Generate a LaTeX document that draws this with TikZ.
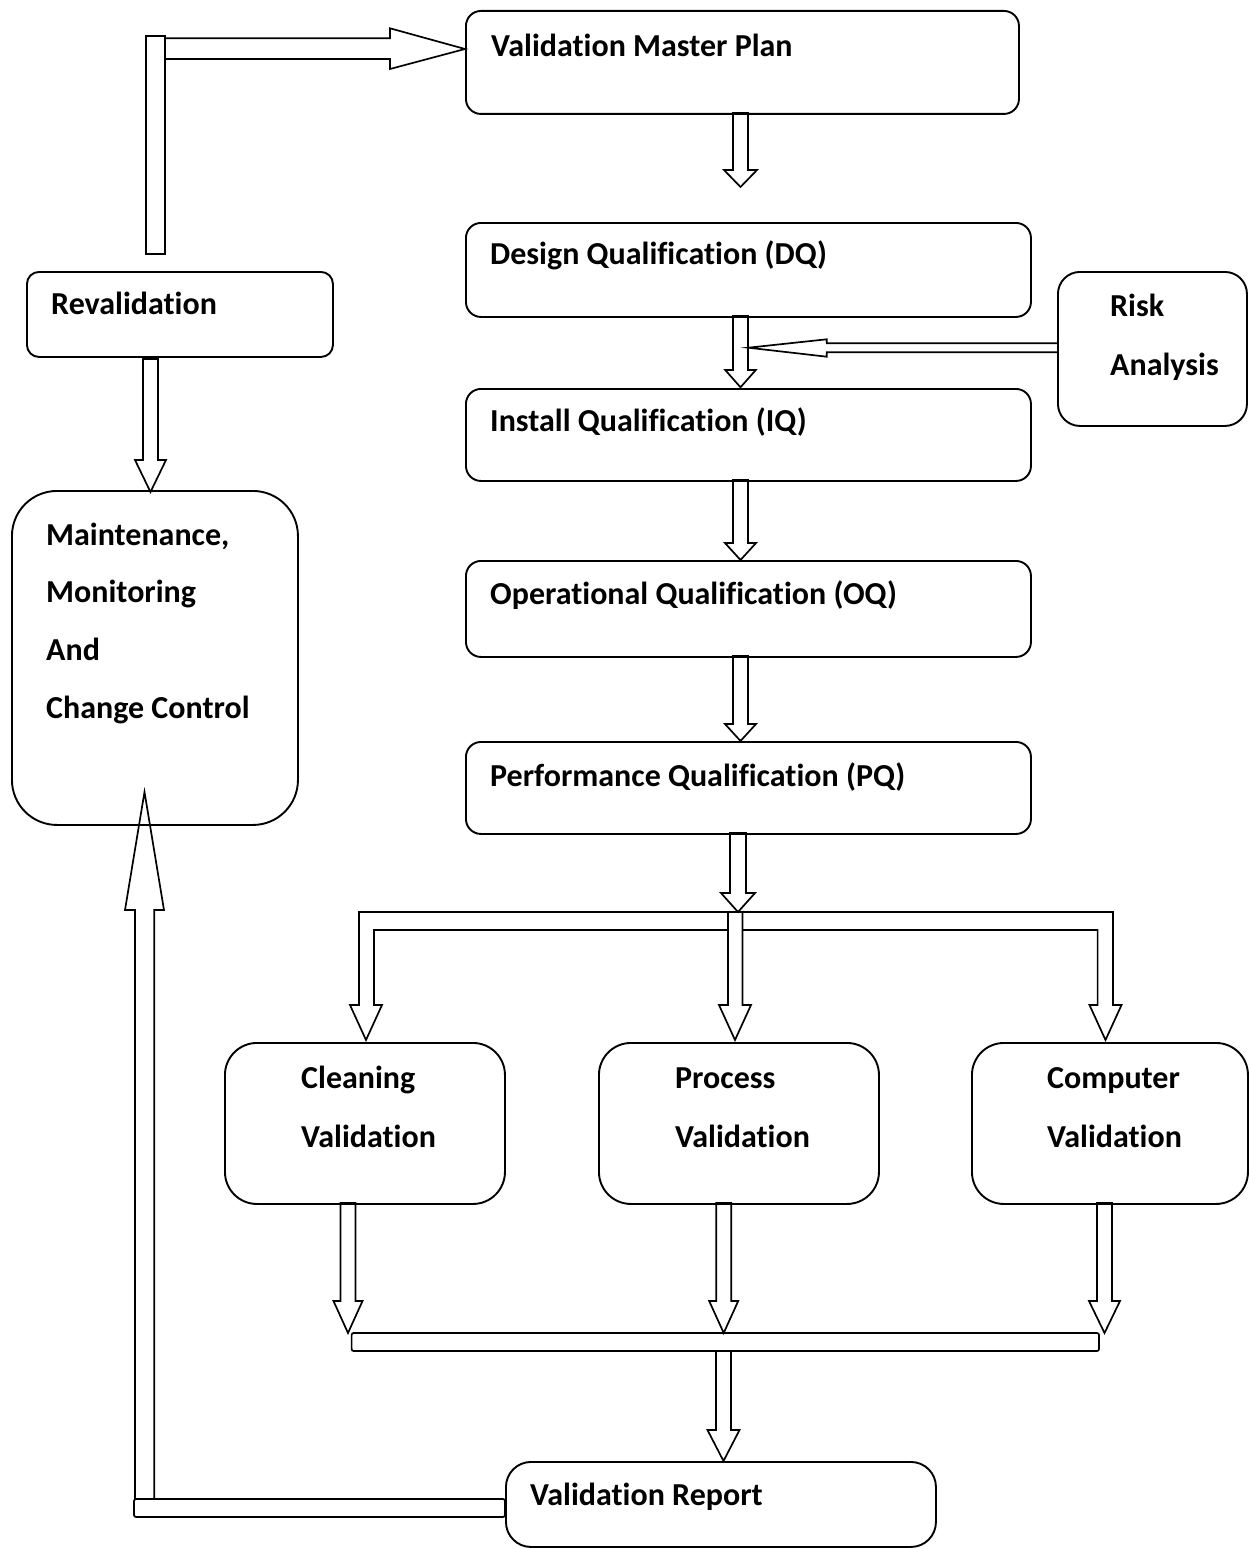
\documentclass[tikz,border=0pt]{standalone}
\usepackage{fontspec}
\setmainfont{Carlito}[Ligatures=CommonOff]
\newcommand\blkdown[6]{%
  \draw[blk] (#1-#5,#2) -- (#1-#5,#3) -- (#1-#6,#3) -- (#1,#4) -- (#1+#6,#3) -- (#1+#5,#3) -- (#1+#5,#2) -- cycle;}
\begin{document}
\begin{tikzpicture}[x=1pt,y=-1pt,
  box/.style={draw, line width=1.9pt, rounded corners=#1, inner sep=0pt, anchor=north west},
  box/.default=15pt,
  lbl/.style={anchor=base west, inner sep=0pt, font=\fontsize{32}{38}\selectfont\bfseries},
  blk/.style={draw, line width=1.7pt, line join=miter}]
\useasboundingbox (0,0) rectangle (1248,1549);

% boxes
\node[box=15pt, minimum width=553pt, minimum height=103pt] (vmp) at (465,10) {};
\node[box=15pt, minimum width=565pt, minimum height=94pt] (dq) at (465,222) {};
\node[box=15pt, minimum width=565pt, minimum height=92pt] (iq) at (465,388) {};
\node[box=15pt, minimum width=565pt, minimum height=96pt] (oq) at (465,560) {};
\node[box=15pt, minimum width=565pt, minimum height=92pt] (pq) at (465,741) {};
\node[box=22pt, minimum width=189pt, minimum height=154pt] (risk) at (1057,271) {};
\node[box=12pt, minimum width=306pt, minimum height=85pt] (reval) at (26,271) {};
\node[box=45pt, minimum width=286pt, minimum height=334pt] (maint) at (11,490) {};
\node[box=32pt, minimum width=280pt, minimum height=161pt] (clean) at (224,1042) {};
\node[box=32pt, minimum width=280pt, minimum height=161pt] (proc) at (598,1042) {};
\node[box=32pt, minimum width=276pt, minimum height=161pt] (comp) at (971,1042) {};
\node[box=25pt, minimum width=430pt, minimum height=85pt] (report) at (505,1461) {};

% labels
\node[lbl] (tvmp) at (491,56.7) {Validation Master Plan};
\node[lbl] (tdq) at (490,264.3) {Design Qualification (DQ)};
\node[lbl] (tiq) at (490,431) {Install Qualification (IQ)};
\node[lbl] (toq) at (490,604) {Operational Qualification (OQ)};
\node[lbl] (tpq) at (490,786) {Performance Qualification (PQ)};
\node[lbl] (trisk1) at (1110,316.7) {Risk};
\node[lbl] (trisk2) at (1110,375) {Analysis};
\node[lbl] (treval) at (51,314) {Revalidation};
\node[lbl] (tm1) at (46,545) {Maintenance,};
\node[lbl] (tm2) at (46,602) {Monitoring};
\node[lbl] (tm3) at (46,660) {And};
\node[lbl] (tm4) at (46,718) {Change Control};
\node[lbl] (tc1) at (301,1088.3) {Cleaning};
\node[lbl] (tc2) at (301,1147.3) {Validation};
\node[lbl] (tp1) at (675,1088.3) {Process};
\node[lbl] (tp2) at (675,1147.3) {Validation};
\node[lbl] (tco1) at (1047,1088.3) {Computer};
\node[lbl] (tco2) at (1047,1147.3) {Validation};
\node[lbl] (trep) at (530,1505) {Validation Report};

% main chain block arrows
\blkdown{740.5}{113}{170}{187}{7.5}{16.5}
\blkdown{740.5}{316}{370}{387.3}{7.5}{15.3}
\blkdown{740.5}{480}{543}{560}{7.5}{15.5}
\blkdown{740.5}{656}{724}{741}{7.5}{15.5}
\blkdown{738}{833}{893}{912}{8}{17}

% risk arrow
\draw[blk] (1057,343.3) -- (826.7,343.3) -- (826.7,339.3) -- (748.3,347.7) -- (826.7,356.7) -- (826.7,352.3) -- (1057,352.3);

% distribution manifold
\draw[blk] (728,930) -- (374,930) -- (374,1005) -- (382,1005) -- (366,1040) -- (350,1005) -- (359,1005) -- (359,912) -- (1113,912) -- (1113,1005) -- (1121.5,1005) -- (1105.5,1040) -- (1089.5,1005) -- (1097.6,1005) -- (1097.6,930) -- (742.5,930);
\draw[blk] (728,912) -- (728,1005) -- (719,1005) -- (735,1040) -- (751,1005) -- (742.5,1005) -- (742.5,912);

% collecting arrows and bar
\blkdown{348}{1203}{1301}{1333}{7.5}{14.5}
\blkdown{723.7}{1203}{1301}{1333}{7.5}{14.5}
\blkdown{1104.5}{1203}{1301}{1333}{7.5}{15.5}
\draw[blk, rounded corners=2pt] (351.6,1333) rectangle (1099,1351);
\blkdown{723.5}{1351}{1430}{1461}{7.5}{16}

% return loop from report to maintenance
\draw[blk] (135,1499) -- (135,910) -- (125,910) -- (144.5,792) -- (164,910) -- (154.3,910) -- (154.3,1499);
\draw[blk, rounded corners=2pt] (134,1499) rectangle (505,1517);

% revalidation to maintenance
\blkdown{150.5}{359}{460}{492}{7.5}{15.5}

% revalidation loop to VMP
\draw[blk] (145.7,36) rectangle (164.7,254.3);
\draw[blk] (164.7,38.3) -- (390,38.3) -- (390,28.3) -- (465,49) -- (390,69) -- (390,59) -- (164.7,59);
\end{tikzpicture}
\end{document}
